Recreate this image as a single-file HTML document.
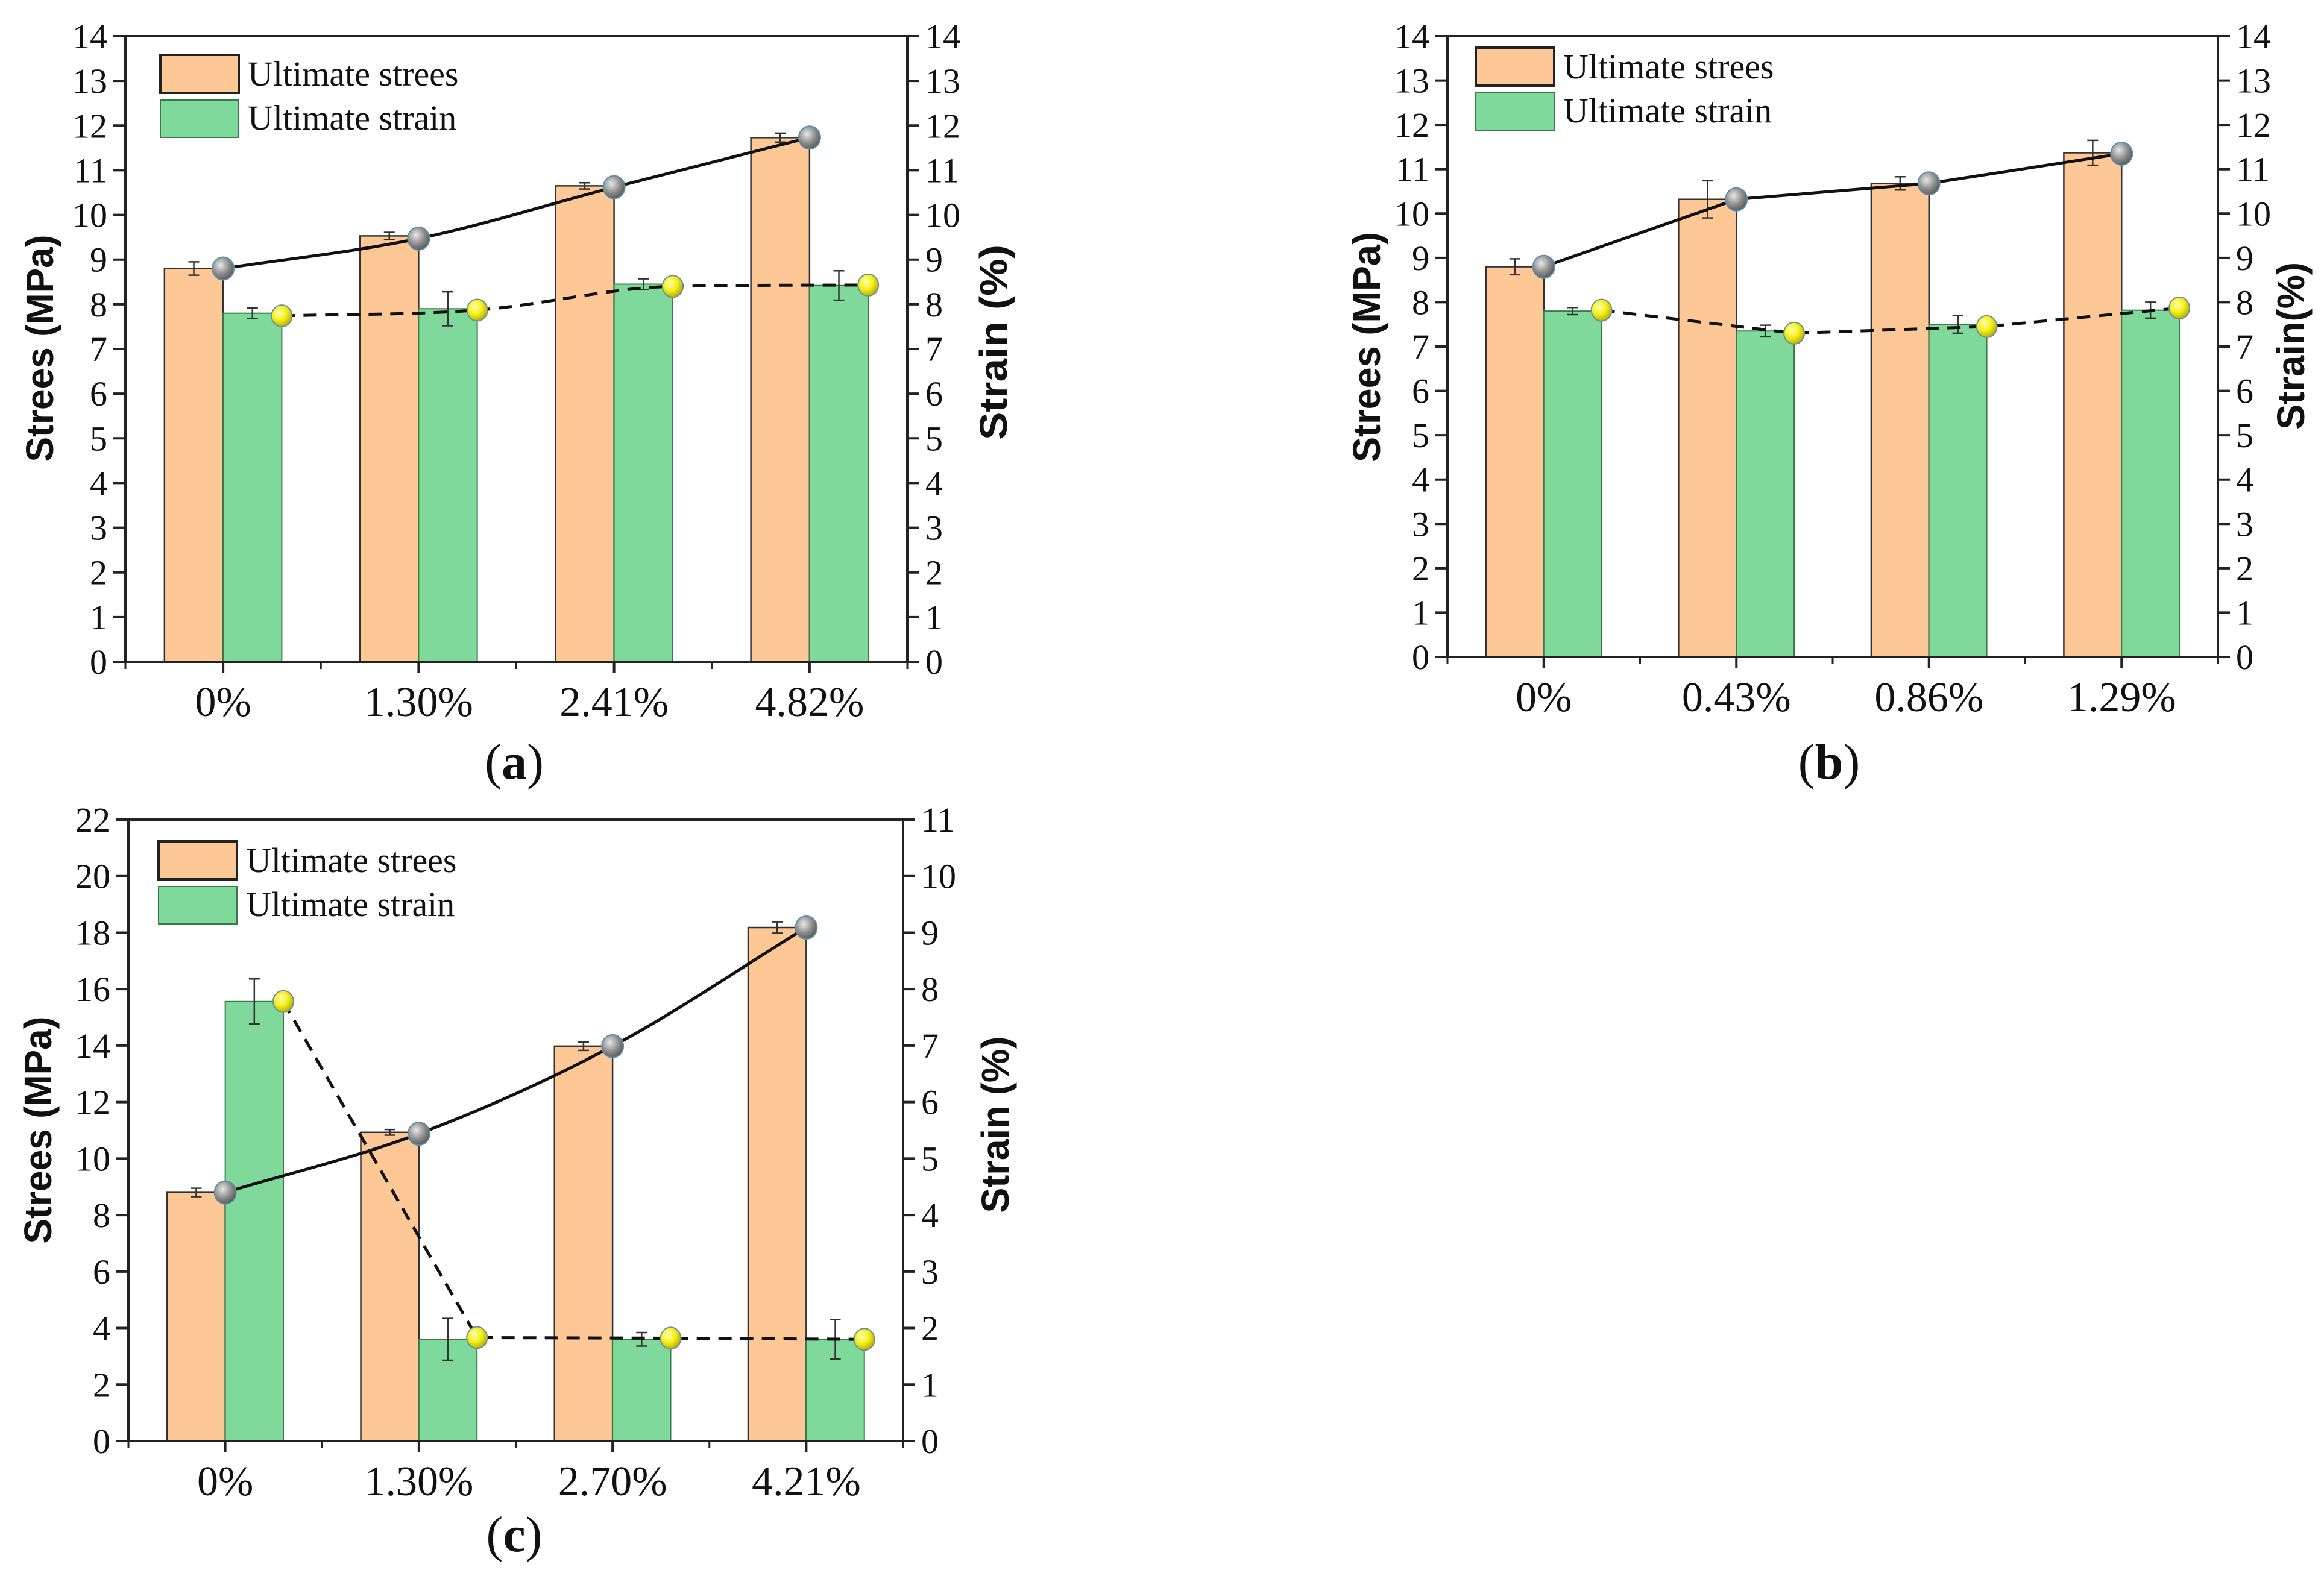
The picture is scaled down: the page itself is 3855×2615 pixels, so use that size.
<!DOCTYPE html>
<html><head><meta charset="utf-8"><style>
html,body{margin:0;padding:0;background:#fff}
svg{display:block}
text{font-family:"Liberation Serif",serif;fill:#111}
.title{font-family:"Liberation Sans",sans-serif;font-weight:bold}
</style></head><body>
<svg id="chart" width="3855" height="2615" viewBox="0 0 3855 2615" xmlns="http://www.w3.org/2000/svg">
<defs>
<radialGradient id="gGray" cx="0.38" cy="0.35" r="0.7"><stop offset="0" stop-color="#e8e8e8"/><stop offset="0.55" stop-color="#8f8f8f"/><stop offset="1" stop-color="#555"/></radialGradient>
<radialGradient id="gYel" cx="0.38" cy="0.35" r="0.7"><stop offset="0" stop-color="#ffffb0"/><stop offset="0.5" stop-color="#f5f01a"/><stop offset="1" stop-color="#b0a800"/></radialGradient>
</defs>
</svg>
<script>
// Panel (a)
const catsA = ["0%","1.30%","2.41%","4.82%"];
const stressA = [8.8, 9.53, 10.65, 11.73];
const stressErrA = [0.15, 0.08, 0.07, 0.1];
const strainA = [7.8, 7.9, 8.45, 8.42];
const strainErrA = [0.12, 0.38, 0.12, 0.33];
const stressLineA = [8.8, 9.47, 10.62, 11.73];
const strainLineA = [7.74, 7.87, 8.4, 8.43];
const leftTicksA = [0,1,2,3,4,5,6,7,8,9,10,11,12,13,14];
const rightTicksA = [0,1,2,3,4,5,6,7,8,9,10,11,12,13,14];
// Panel (b)
const catsB = ["0%","0.43%","0.86%","1.29%"];
const stressB = [8.8, 10.32, 10.68, 11.37];
const stressErrB = [0.18, 0.42, 0.15, 0.28];
const strainB = [7.8, 7.35, 7.5, 7.82];
const strainErrB = [0.08, 0.13, 0.2, 0.18];
const stressLineB = [8.8, 10.32, 10.68, 11.35];
const strainLineB = [7.82, 7.3, 7.45, 7.87];
const leftTicksB = [0,1,2,3,4,5,6,7,8,9,10,11,12,13,14];
const rightTicksB = [0,1,2,3,4,5,6,7,8,9,10,11,12,13,14];
// Panel (c)
const catsC = ["0%","1.30%","2.70%","4.21%"];
const stressC = [8.8, 10.93, 13.98, 18.18];
const stressErrC = [0.15, 0.1, 0.15, 0.2];
const strainC = [7.78, 1.8, 1.8, 1.8];
const strainErrC = [0.4, 0.37, 0.12, 0.35];
const stressLineC = [8.8, 10.88, 13.98, 18.18];
const strainLineC = [7.78, 1.83, 1.82, 1.8];
const leftTicksC = [0,2,4,6,8,10,12,14,16,18,20,22];
const rightTicksC = [0,1,2,3,4,5,6,7,8,9,10,11];

const NS = "http://www.w3.org/2000/svg";
const svg = document.getElementById("chart");
function mk(tag, attrs, parent){
  const e = document.createElementNS(NS, tag);
  for (const k in attrs) e.setAttribute(k, attrs[k]);
  (parent||svg).appendChild(e);
  return e;
}
function straight(pts){ return "M"+pts.map(p=>p[0]+","+p[1]).join(" L"); }
function monotone(pts){
  const n=pts.length, d=[], m=[];
  for(let i=0;i<n-1;i++) d.push((pts[i+1][1]-pts[i][1])/(pts[i+1][0]-pts[i][0]));
  m[0]=d[0]; m[n-1]=d[n-2];
  for(let i=1;i<n-1;i++) m[i]=(d[i-1]*d[i]<=0)?0:(d[i-1]+d[i])/2;
  for(let i=0;i<n-1;i++){ if(d[i]===0){m[i]=0;m[i+1]=0;continue;}
    const a=m[i]/d[i], b=m[i+1]/d[i], s=a*a+b*b;
    if(s>9){const t=3/Math.sqrt(s); m[i]=t*a*d[i]; m[i+1]=t*b*d[i];} }
  let path="M"+pts[0][0]+","+pts[0][1];
  for(let i=0;i<n-1;i++){
    const h=(pts[i+1][0]-pts[i][0])/3;
    path+=` C${pts[i][0]+h},${pts[i][1]+m[i]*h} ${pts[i+1][0]-h},${pts[i+1][1]-m[i+1]*h} ${pts[i+1][0]},${pts[i+1][1]}`;
  }
  return path;
}
function panel(P){
  const g = mk("g", {});
  
  
  const n = P.cats.length, step = (P.x1-P.x0)/n, bw = step*0.3;
  const lMax = P.lTicks[P.lTicks.length-1], rMax = P.rTicks[P.rTicks.length-1];
  const yL = v => P.y1 - v/lMax*(P.y1-P.y0);
  const yR = v => P.y1 - v/rMax*(P.y1-P.y0);
  const xc = i => P.x0 + (i+0.5)*step;
  for (let i=0;i<n;i++){
    const b1 = mk("rect",{x:xc(i)-bw,y:yL(P.stress[i]),width:bw,height:P.y1-yL(P.stress[i]),fill:"#fec896",stroke:"#333","stroke-width":2.5},g);
    
    
    const b2 = mk("rect",{x:xc(i),y:yR(P.strain[i]),width:bw,height:P.y1-yR(P.strain[i]),fill:"#7ed99a",stroke:"#3a7a4a","stroke-width":2},g);
    
    
    const ex1 = xc(i)-bw/2, ex2 = xc(i)+bw/2;
    const e1 = mk("path",{d:`M${ex1},${yL(P.stress[i]-P.stressErr[i])}V${yL(P.stress[i]+P.stressErr[i])}M${ex1-9},${yL(P.stress[i]-P.stressErr[i])}h18M${ex1-9},${yL(P.stress[i]+P.stressErr[i])}h18`,stroke:"#333","stroke-width":2.5,fill:"none"},g);
    
    
    const e2 = mk("path",{d:`M${ex2},${yR(P.strain[i]-P.strainErr[i])}V${yR(P.strain[i]+P.strainErr[i])}M${ex2-9},${yR(P.strain[i]-P.strainErr[i])}h18M${ex2-9},${yR(P.strain[i]+P.strainErr[i])}h18`,stroke:"#333","stroke-width":2.5,fill:"none"},g);
    
    
  }
  const sp = P.sLine.map((v,i)=>[xc(i), yL(v)]);
  const tp = P.tLine.map((v,i)=>[xc(i)+bw, yR(v)]);
  const l1 = mk("path",{d:P.sSmooth?monotone(sp):straight(sp),stroke:"#111","stroke-width":5,fill:"none"},g);
  
  
  const l2 = mk("path",{d:P.tSmooth?monotone(tp):straight(tp),stroke:"#111","stroke-width":5,fill:"none","stroke-dasharray":"22 14"},g);
  
  
  sp.forEach(p=>{
    const m = mk("ellipse",{cx:p[0],cy:p[1],rx:18,ry:19,fill:"url(#gGray)",stroke:"#5a8fb0","stroke-width":2},g);
    
    
  });
  tp.forEach(p=>{
    const m = mk("ellipse",{cx:p[0],cy:p[1],rx:17,ry:18,fill:"url(#gYel)",stroke:"#6a8fa0","stroke-width":2},g);
    
    
  });
  const fr = mk("rect",{x:P.x0,y:P.y0,width:P.x1-P.x0,height:P.y1-P.y0,fill:"none",stroke:"#222","stroke-width":4},g);
  
  
  P.lTicks.forEach(v=>{
    mk("line",{x1:P.x0-20,x2:P.x0,y1:yL(v),y2:yL(v),stroke:"#222","stroke-width":4},g);
    const t = mk("text",{x:P.x0-30,y:yL(v)+20,"text-anchor":"end","font-size":58},g);
    t.textContent = v;
    
    
  });
  P.rTicks.forEach(v=>{
    mk("line",{x1:P.x1,x2:P.x1+20,y1:yR(v),y2:yR(v),stroke:"#222","stroke-width":4},g);
    const t = mk("text",{x:P.x1+30,y:yR(v)+20,"text-anchor":"start","font-size":58},g);
    t.textContent = v;
    
    
  });
  for (let i=0;i<=n;i++) mk("line",{x1:P.x0+i*step,x2:P.x0+i*step,y1:P.y1,y2:P.y1+12,stroke:"#222","stroke-width":3},g);
  P.cats.forEach((c,i)=>{
    mk("line",{x1:xc(i),x2:xc(i),y1:P.y1,y2:P.y1+18,stroke:"#222","stroke-width":4},g);
    const t = mk("text",{x:xc(i),y:P.y1+90,"text-anchor":"middle","font-size":70},g);
    t.textContent = c;
    
    
  });
  const lt = mk("text",{class:"title",x:0,y:0,"text-anchor":"middle","font-size":64,transform:`translate(${P.ltx},${P.lty}) rotate(-90)`,textLength:P.ltl,lengthAdjust:"spacingAndGlyphs"},g);
  lt.textContent = "Strees (MPa)";
  
  
  const rt = mk("text",{class:"title",x:0,y:0,"text-anchor":"middle","font-size":64,transform:`translate(${P.rtx},${P.rty}) rotate(-90)`,textLength:P.rtl,lengthAdjust:"spacingAndGlyphs"},g);
  rt.textContent = P.rtitle;
  
  
  const lg = mk("g",{},g);
  
  
  const r1 = mk("rect",{x:P.lgx,y:P.lgy,width:130,height:63,fill:"#fec896",stroke:"#222","stroke-width":4},lg);
  
  
  const r2 = mk("rect",{x:P.lgx,y:P.lgy+75,width:130,height:62,fill:"#7ed99a",stroke:"#3a7a4a","stroke-width":2},lg);
  
  
  const t1 = mk("text",{x:P.lgx+145,y:P.lgy+51,"font-size":58},lg);
  t1.textContent = "Ultimate strees";
  
  
  const t2 = mk("text",{x:P.lgx+145,y:P.lgy+124,"font-size":58},lg);
  t2.textContent = "Ultimate strain";
  
  
  const cp = mk("text",{x:P.capx,y:P.capy,"text-anchor":"middle","font-size":84},g);
  cp.innerHTML = '(<tspan font-weight="bold">'+P.cap+'</tspan>)';
  
  
}
panel({name:"panel-a",cats:catsA,stress:stressA,stressErr:stressErrA,strain:strainA,strainErr:strainErrA,sLine:stressLineA,tLine:strainLineA,lTicks:leftTicksA,rTicks:rightTicksA,sSmooth:true,tSmooth:true,
  x0:208,x1:1505,y0:60,y1:1098,ltx:88,lty:578,ltl:377,rtx:1670,rty:568,rtl:324,rtitle:"Strain (%)",lgx:266,lgy:91,capx:853,capy:1292,cap:"a"});
panel({name:"panel-b",cats:catsB,stress:stressB,stressErr:stressErrB,strain:strainB,strainErr:strainErrB,sLine:stressLineB,tLine:strainLineB,lTicks:leftTicksB,rTicks:rightTicksB,sSmooth:false,tSmooth:false,
  x0:2401,x1:3679,y0:60,y1:1090,ltx:2289,lty:576,ltl:382,rtx:3822,rty:574,rtl:278,rtitle:"Strain(%)",lgx:2448,lgy:79,capx:3034,capy:1292,cap:"b"});
panel({name:"panel-c",cats:catsC,stress:stressC,stressErr:stressErrC,strain:strainC,strainErr:strainErrC,sLine:stressLineC,tLine:strainLineC,lTicks:leftTicksC,rTicks:rightTicksC,sSmooth:true,tSmooth:false,
  x0:213,x1:1498,y0:1360,y1:2391,ltx:85,lty:1875,ltl:377,rtx:1673,rty:1866,rtl:293,rtitle:"Strain (%)",lgx:263,lgy:1396,capx:853,capy:2574,cap:"c"});
</script>
</body></html>
